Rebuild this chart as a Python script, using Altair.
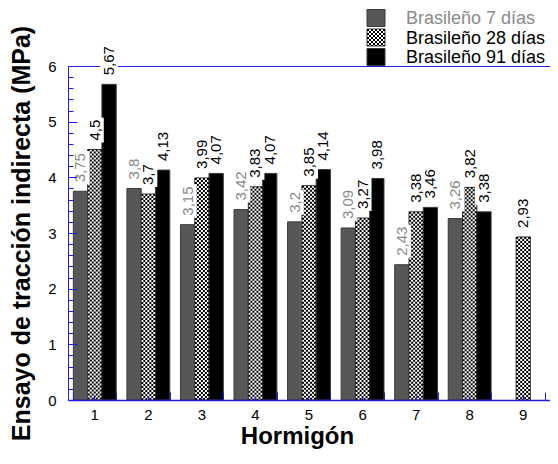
import altair as alt
import pandas as pd

# ---------------- data ----------------
hormigon = ["1", "2", "3", "4", "5", "6", "7", "8", "9"]
series = ["Brasileño 7 días", "Brasileño 28 días", "Brasileño 91 días"]
v7 = [3.75, 3.8, 3.15, 3.42, 3.2, 3.09, 2.43, 3.26, None]
v28 = [4.5, 3.7, 3.99, 3.83, 3.85, 3.27, 3.38, 3.82, 2.93]
v91 = [5.67, 4.13, 4.07, 4.07, 4.14, 3.98, 3.46, 3.38, None]
y_major = [0, 1, 2, 3, 4, 5, 6]
y_minor = [0, 0.2, 0.4, 0.6, 0.8, 1, 1.2, 1.4, 1.6, 1.8, 2, 2.2, 2.4, 2.6, 2.8, 3,
           3.2, 3.4, 3.6, 3.8, 4, 4.2, 4.4, 4.6, 4.8, 5, 5.2, 5.4, 5.6, 5.8, 6]

rows = []
for i, h in enumerate(hormigon):
    for s, vals in zip(series, [v7, v28, v91]):
        if vals[i] is not None:
            rows.append({"Hormigón": h, "serie": s, "valor": vals[i],
                         "etiqueta": str(vals[i]).replace(".", ",")})
df = pd.DataFrame(rows)
d28 = df[df["serie"] == series[1]]
one = pd.DataFrame({"k": [0]})

# ---------------- style ----------------
BLUE = "#1c1ce6"
FONT = "Liberation Sans"
W, H = 482, 334
PAD_TOP, PAD_BOTTOM = 58, 49
PX_PER_UNIT = H / 6.0
fills = ["#575757", "#ffffff", "#000000"]
label_colors = ["#8a8a8a", "#000000", "#000000"]
LABEL_FS = 15
LABEL_GAP = 9

xsc = alt.Scale(paddingInner=0.2, paddingOuter=0.1)
ysc = alt.Scale(domain=[0, 6], nice=False)


def X(axis=None):
    return alt.X("Hormigón:N", sort=hormigon, scale=xsc, axis=axis)


def Y(axis=None):
    return alt.Y("valor:Q", scale=ysc, axis=axis)


XO = alt.XOffset("serie:N", sort=series, scale=alt.Scale(domain=series))

main_x_axis = alt.Axis(title="Hormigón", labelAngle=0, ticks=False, domain=True,
                       domainColor=BLUE, domainWidth=1.5,
                       labelPadding=7, labelFontSize=15, titleFontSize=24,
                       titleFontWeight="bold", titleX=229, titleY=43,
                       titleBaseline="alphabetic", titleAlign="center", zindex=1)
main_y_axis = alt.Axis(title="Ensayo de tracción indirecta (MPa)", values=y_major,
                       ticks=False, domain=True, domainColor=BLUE, grid=False,
                       labelPadding=12, labelFontSize=15, titleFontSize=25,
                       titleFontWeight="bold", titleAngle=270, titleX=-34, titleY=H / 2,
                       titleAlign="center", titleBaseline="bottom", zindex=1)

bars = alt.Chart(df).mark_bar(stroke="#3a3a3a", strokeWidth=1).encode(
    x=X(main_x_axis), xOffset=XO, y=Y(main_y_axis),
    fill=alt.Fill("serie:N", scale=alt.Scale(domain=series, range=fills), legend=None),
)

# checker pattern for the 28-day bars (middle slot = band centre)
checker = []
for k in range(7):
    checker.append(
        alt.Chart(d28).mark_rule(color="black", strokeWidth=2, strokeDash=[2, 2],
                                 strokeDashOffset=2 * (k % 2), strokeCap="butt",
                                 xOffset=-6 + 2 * k)
        .encode(x=X(), y=Y(), y2=alt.datum(0))
    )

# tick axes (inward ticks) and top frame line
tick_major = alt.Chart(df).mark_point(opacity=0).encode(
    x=X(alt.Axis(orient="top", offset=-H, labels=False, domain=False, tickBand="extent",
                 tickSize=8, tickColor=BLUE, title=None, zindex=1, grid=False)),
    y=Y(alt.Axis(orient="right", offset=-W, values=y_major, labels=False, domain=False,
                 tickSize=9, tickColor=BLUE, title=None, zindex=1, grid=False)),
)
tick_minor = alt.Chart(df).mark_point(opacity=0).encode(
    x=X(alt.Axis(orient="top", offset=-H, labels=False, domain=False, tickBand="center",
                 tickSize=4, tickColor=BLUE, title=None, zindex=1, grid=False)),
    y=Y(alt.Axis(orient="right", offset=-W, values=y_minor, labels=False, domain=False,
                 tickSize=5, tickColor=BLUE, title=None, zindex=1, grid=False)),
)
top_line = alt.Chart(df).mark_point(opacity=0).encode(
    x=X(alt.Axis(orient="top", labels=False, ticks=False, domain=True, domainColor=BLUE,
                 title=None, grid=False, zindex=0)),
    y=Y(),
)

# white boxes behind the value labels
boxes = alt.Chart(df).transform_calculate(
    top=f"datum.valor + ((length(datum.etiqueta) - 1) * {0.556 * LABEL_FS} + "
        f"{0.278 * LABEL_FS} + {LABEL_GAP + 2}) / {PX_PER_UNIT}"
).mark_bar(fill="white", width=18, yOffset=-(LABEL_GAP - 2)).encode(
    x=X(), xOffset=XO, y=Y(), y2="top:Q")

labels = alt.Chart(df).mark_text(angle=270, align="left", baseline="middle", dx=LABEL_GAP,
                                 fontSize=LABEL_FS, font=FONT).encode(
    x=X(), xOffset=XO, y=Y(), text="etiqueta:N",
    color=alt.Color("serie:N", scale=alt.Scale(domain=series, range=label_colors),
                    legend=None))

# legend (top right)
leg = []
row_c = [-48, -28.5, -9]
sq_x0, sq_x1 = 299, 317
half = 8.5
for i, s in enumerate(series):
    yc = row_c[i]
    leg.append(alt.Chart(one).mark_rect(fill=fills[i], stroke="#3a3a3a", strokeWidth=1).encode(
        x=alt.value(sq_x0), x2=alt.value(sq_x1), y=alt.value(yc - half), y2=alt.value(yc + half)))
    if i == 1:
        for k in range(9):
            leg.append(alt.Chart(one).mark_rule(color="black", strokeWidth=2, strokeDash=[2, 2],
                                                strokeDashOffset=2 * (k % 2), strokeCap="butt")
                       .encode(x=alt.value(sq_x0 + 1 + 2 * k), y=alt.value(yc - half),
                               y2=alt.value(yc + half)))
    leg.append(alt.Chart(one).mark_text(align="left", baseline="middle", fontSize=18,
                                        font=FONT, color=label_colors[i]).encode(
        x=alt.value(338), y=alt.value(yc + 1), text=alt.value(s)))

chart = alt.layer(top_line, bars, *checker, tick_major, tick_minor, boxes, labels, *leg).resolve_axis(
    x="independent", y="independent"
).properties(
    width=W, height=H,
    autosize=alt.AutoSizeParams(type="none"),
    padding={"left": 60, "top": PAD_TOP, "right": 0, "bottom": PAD_BOTTOM},
).configure_view(stroke=None).configure_axis(
    labelFont=FONT, titleFont=FONT, labelColor="black", titleColor="black"
).configure_text(font=FONT)

chart.save("out.html", embed_options={"renderer": "svg", "actions": False})
